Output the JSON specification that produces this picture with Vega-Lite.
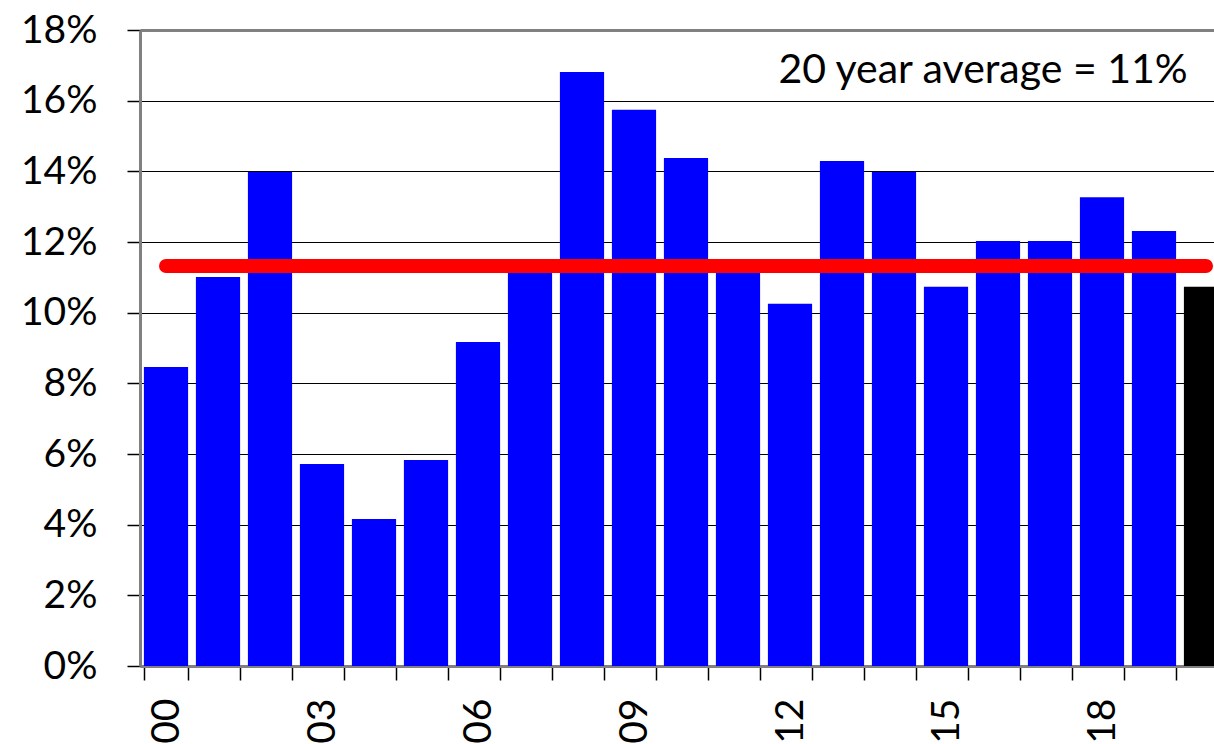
{
  "$schema": "https://vega.github.io/schema/vega-lite/v6.json",
  "width": 1092,
  "height": 636,
  "autosize": {"type": "none"},
  "padding": {"left": 140, "top": 30, "right": 0, "bottom": 78},
  "background": "white",
  "config": {"view": {"stroke": null}, "font": "Lato"},
  "datasets": {
    "bars": [
      {"year": "00", "value": 8.46, "kind": "past"},
      {"year": "01", "value": 11.01, "kind": "past"},
      {"year": "02", "value": 13.98, "kind": "past"},
      {"year": "03", "value": 5.72, "kind": "past"},
      {"year": "04", "value": 4.16, "kind": "past"},
      {"year": "05", "value": 5.83, "kind": "past"},
      {"year": "06", "value": 9.17, "kind": "past"},
      {"year": "07", "value": 11.3, "kind": "past"},
      {"year": "08", "value": 16.81, "kind": "past"},
      {"year": "09", "value": 15.74, "kind": "past"},
      {"year": "10", "value": 14.38, "kind": "past"},
      {"year": "11", "value": 11.3, "kind": "past"},
      {"year": "12", "value": 10.25, "kind": "past"},
      {"year": "13", "value": 14.29, "kind": "past"},
      {"year": "14", "value": 13.98, "kind": "past"},
      {"year": "15", "value": 10.73, "kind": "past"},
      {"year": "16", "value": 12.03, "kind": "past"},
      {"year": "17", "value": 12.03, "kind": "past"},
      {"year": "18", "value": 13.27, "kind": "past"},
      {"year": "19", "value": 12.31, "kind": "past"},
      {"year": "20", "value": 10.73, "kind": "current"}
    ],
    "avg": [
      {"year": "00", "v": 11.32},
      {"year": "20", "v": 11.32}
    ],
    "note": [
      {"year": "16", "v": 16.85, "label": "20 year average = 11%"}
    ]
  },
  "layer": [
    {
      "data": {"name": "bars"},
      "mark": {"type": "bar"},
      "encoding": {
        "x": {
          "field": "year",
          "type": "ordinal",
          "scale": {"paddingInner": 0.15, "paddingOuter": 0.075},
          "axis": {
            "title": null,
            "tickBand": "extent",
            "labelAngle": 270,
            "labelExpr": "parseInt(datum.label, 10) % 3 === 0 ? datum.label : ''",
            "labelFontSize": 39,
            "labelColor": "black",
            "labelPadding": 18,
            "tickSize": 14,
            "tickColor": "black",
            "tickWidth": 1.5,
            "domainColor": "#808080",
            "domainWidth": 3,
            "grid": false
          }
        },
        "y": {
          "field": "value",
          "type": "quantitative",
          "scale": {"domain": [0, 18], "nice": false},
          "axis": {
            "title": null,
            "values": [0, 2, 4, 6, 8, 10, 12, 14, 16, 18],
            "labelExpr": "datum.value + '%'",
            "labelFontSize": 39,
            "labelColor": "black",
            "labelPadding": 30,
            "tickSize": 13,
            "tickColor": "black",
            "tickWidth": 1.5,
            "domainColor": "#808080",
            "domainWidth": 3,
            "grid": true,
            "gridColor": {"condition": {"test": "datum.value === 18", "value": "#808080"}, "value": "black"},
            "gridWidth": {"condition": {"test": "datum.value === 18", "value": 3}, "value": 1},
            "gridOpacity": 1
          }
        },
        "color": {
          "field": "kind",
          "type": "nominal",
          "scale": {"domain": ["past", "current"], "range": ["#0000ff", "#000000"]},
          "legend": null
        }
      }
    },
    {
      "data": {"name": "avg"},
      "mark": {"type": "line", "color": "#ff0000", "strokeWidth": 14, "strokeCap": "round"},
      "encoding": {
        "x": {"field": "year", "type": "ordinal"},
        "y": {"field": "v", "type": "quantitative"}
      }
    },
    {
      "data": {"name": "note"},
      "mark": {"type": "text", "fontSize": 41, "align": "center", "baseline": "middle", "dx": -15, "color": "black"},
      "encoding": {
        "x": {"field": "year", "type": "ordinal"},
        "y": {"field": "v", "type": "quantitative"},
        "text": {"field": "label"}
      }
    }
  ]
}
